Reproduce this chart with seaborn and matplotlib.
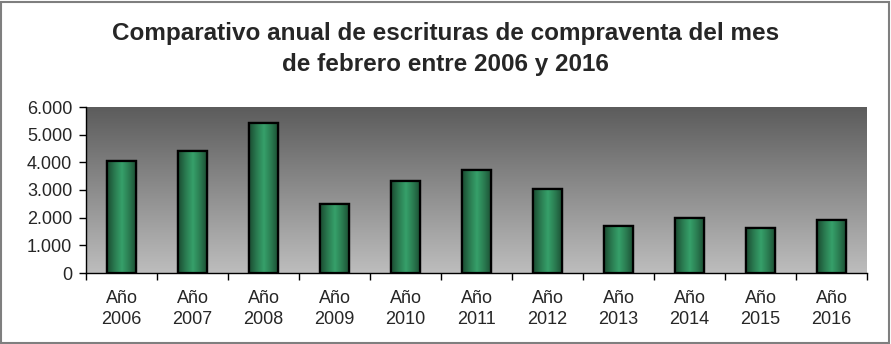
import numpy as np
import pandas as pd
import matplotlib
matplotlib.use("Agg")
import matplotlib.pyplot as plt
import seaborn as sns
from matplotlib.colors import LinearSegmentedColormap
from matplotlib.ticker import FuncFormatter
from matplotlib.patches import Rectangle

sns.set_style("white")
plt.rcParams["font.family"] = ["Liberation Sans", "DejaVu Sans"]

# Escrituras de compraventa registradas en febrero de cada año
categorias = ["Año\n2006", "Año\n2007", "Año\n2008", "Año\n2009", "Año\n2010", "Año\n2011",
              "Año\n2012", "Año\n2013", "Año\n2014", "Año\n2015", "Año\n2016"]
escrituras = [4060, 4410, 5410, 2500, 3320, 3720, 3045, 1710, 1990, 1640, 1905]
ticks_y = [0, 1000, 2000, 3000, 4000, 5000, 6000]

df = pd.DataFrame({"anio": categorias, "escrituras": escrituras})

fig = plt.figure(figsize=(8.91, 3.44), dpi=100)
ax = fig.add_axes([86 / 891, 1 - 273 / 344, (867 - 86) / 891, (273 - 107) / 344])

sns.barplot(data=df, x="anio", y="escrituras", ax=ax, width=0.41,
            color="#2e8b57", edgecolor="black", linewidth=1.6, zorder=3)

ax.set_ylim(0, 6000)
ax.set_xlim(-0.5, len(categorias) - 0.5)
ax.set_yticks(ticks_y)
ax.yaxis.set_major_formatter(FuncFormatter(lambda v, p: f"{int(v):,}".replace(",", ".")))
ax.set_xlabel("")
ax.set_ylabel("")

# Fondo del área de trazado: degradado gris oscuro arriba, claro abajo
fondo = LinearSegmentedColormap.from_list("fondo", ["#bdbdbd", "#5c5c5c"])
grad = np.linspace(0, 1, 256).reshape(-1, 1)
ax.imshow(grad, cmap=fondo, aspect="auto", origin="lower",
          extent=(-0.5, len(categorias) - 0.5, 0, 6000), zorder=0)

# Relleno de las barras con degradado horizontal (bordes oscuros, centro claro)
verde = LinearSegmentedColormap.from_list(
    "verde", ["#1a4a30", "#2a7a50", "#36a06a", "#2a7a50", "#1a4a30"])
hgrad = np.linspace(0, 1, 256).reshape(1, -1)
for bar in ax.patches:
    x0, y0 = bar.get_x(), bar.get_y()
    w, h = bar.get_width(), bar.get_height()
    im = ax.imshow(hgrad, cmap=verde, aspect="auto",
                   extent=(x0, x0 + w, y0, y0 + h), zorder=3.5)
    im.set_clip_path(bar)
    contorno = Rectangle((x0, y0), w, h, fill=False, edgecolor="black",
                         linewidth=1.6, zorder=4)
    ax.add_patch(contorno)
ax.set_xlim(-0.5, len(categorias) - 0.5)
ax.set_ylim(0, 6000)

for s in ["top", "right"]:
    ax.spines[s].set_visible(False)
ax.spines["left"].set_color("black")
ax.spines["bottom"].set_color("black")
ax.spines["left"].set_linewidth(1.0)
ax.spines["bottom"].set_linewidth(1.0)

ax.set_xticks(np.arange(-0.5, len(categorias), 1), minor=True)
ax.tick_params(axis="x", which="major", length=0, labelsize=13, pad=12)
ax.tick_params(axis="x", which="minor", length=5, width=1, color="black", bottom=True)
ax.tick_params(axis="y", which="major", length=5, width=1, color="black",
               left=True, labelsize=13, pad=5)
for lab in ax.get_xticklabels():
    lab.set_linespacing(1.3)

fig.text(0.5, 1 - 49 / 344,
         "Comparativo anual de escrituras de compraventa del mes\nde febrero entre 2006 y 2016",
         ha="center", va="center", fontsize=17.5, fontweight="bold", linespacing=1.4)

# Marco exterior del gráfico
fig.patches.append(Rectangle((1 / 891, 1 / 344), 888 / 891, 341 / 344, fill=False,
                             edgecolor="#7f7f7f", linewidth=1.5,
                             transform=fig.transFigure, figure=fig))

fig.savefig("out.png", dpi=100)
